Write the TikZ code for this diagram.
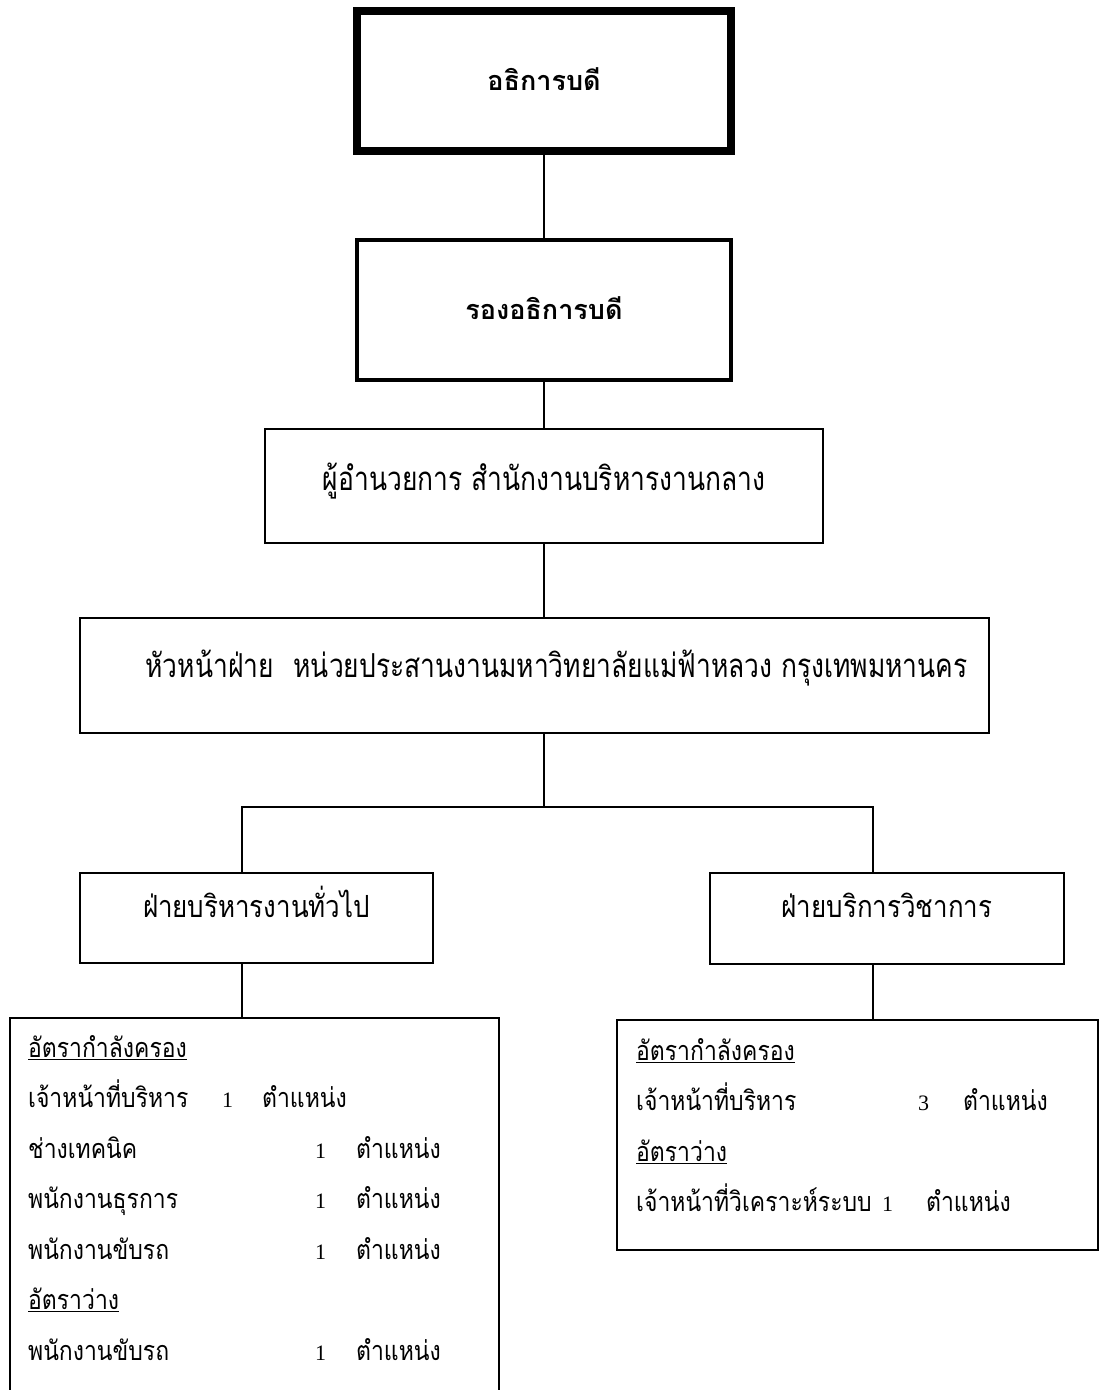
\documentclass[tikz,border=0pt]{standalone}
\usepackage{fontspec}
\newfontfamily\thaifont[Script=Thai]{Loma}
\newfontfamily\thaicond[Script=Thai,FakeStretch=0.8]{Loma}
\newfontfamily\thainarrow[Script=Thai,FakeStretch=0.85]{Loma}
\newfontfamily\digitfont{Liberation Serif}

% one line of a staff list: name, count, unit
\newcommand{\staffrow}[4]{\makebox[#1][l]{#2}\makebox[#4][l]{\digitfont\fontsize{22}{22}\selectfont #3}ตำแหน่ง}

\tikzset{
  unit/.style={draw, rectangle, line width=2pt, inner sep=0pt,
    font=\thaicond\fontsize{33}{36}\selectfont},
  topunit/.style={unit, font=\thaifont\bfseries\fontsize{27}{30}\selectfont,
    text height=20pt, text depth=2pt},
  section/.style={unit, font=\thainarrow\fontsize{30.5}{34}\selectfont,
    text height=14pt, text depth=16pt},
  staffbox/.style={draw, rectangle, line width=2pt, inner sep=0pt},
  stafflist/.style={align=left, anchor=north west, inner sep=0pt,
    font=\thainarrow\fontsize{27}{50.5}\selectfont},
  link/.style={line width=2pt},
}

\begin{document}
\begin{tikzpicture}[x=1pt,y=-1pt]
  \useasboundingbox (0,0) rectangle (1100,1390);
  \clip (0,0) rectangle (1100,1390);

  \node[topunit, line width=8pt, minimum width=374pt, minimum height=140pt] (chief) at (544,81) {อธิการบดี};
  \node[topunit, line width=4.5pt, minimum width=374pt, minimum height=140pt] (vice) at (544,310) {รองอธิการบดี};
  \node[unit, minimum width=558pt, minimum height=114pt, text height=20pt, text depth=12pt] (director) at (544,486) {ผู้อำนวยการ สำนักงานบริหารงานกลาง};
  \node[unit, minimum width=909pt, minimum height=115pt, text height=16pt, text depth=13pt] (head) at (534.5,675.5) {\hspace*{44pt}หัวหน้าฝ่าย\hspace{0.6em}หน่วยประสานงานมหาวิทยาลัยแม่ฟ้าหลวง กรุงเทพมหานคร};

  \node[section, minimum width=353pt, minimum height=90pt] (general) at (256.5,918) {ฝ่ายบริหารงานทั่วไป};
  \node[section, minimum width=354pt, minimum height=91pt] (acad) at (887,918.5) {ฝ่ายบริการวิชาการ};

  \node[staffbox, minimum width=489pt, minimum height=402pt] (genbox) at (254.5,1219) {};
  \node[staffbox, minimum width=481pt, minimum height=230pt] (acadbox) at (857.5,1135) {};

  \node[stafflist] (genlist) at (28,1021.65) {\strut\underline{อัตรากำลังครอง}\\
    \staffrow{194pt}{เจ้าหน้าที่บริหาร}{1}{40pt}\\
    \staffrow{287pt}{ช่างเทคนิค}{1}{41pt}\\
    \staffrow{287pt}{พนักงานธุรการ}{1}{41pt}\\
    \staffrow{287pt}{พนักงานขับรถ}{1}{41pt}\\
    \underline{อัตราว่าง}\\
    \staffrow{287pt}{พนักงานขับรถ}{1}{41pt}};
  \node[stafflist] (acadlist) at (636,1024.65) {\strut\underline{อัตรากำลังครอง}\\
    \staffrow{282pt}{เจ้าหน้าที่บริหาร}{3}{45pt}\\
    \underline{อัตราว่าง}\\
    \staffrow{246pt}{เจ้าหน้าที่วิเคราะห์ระบบ}{1}{44pt}};

  \coordinate (forkL) at (242,807);
  \coordinate (forkR) at (873,807);

  \draw[link] (chief) -- (vice);
  \draw[link] (vice) -- (director);
  \draw[link] (director) -- (director |- head.north);
  \draw[link] (head.south -| director.south) -- (director.south |- forkL);
  \draw[link] (forkL |- general.north) -- (forkL) -- (forkR) -- (forkR |- acad.north);
  \draw[link] (general.south -| forkL) -- (forkL |- genbox.north);
  \draw[link] (acad.south -| forkR) -- (forkR |- acadbox.north);
\end{tikzpicture}
\end{document}
